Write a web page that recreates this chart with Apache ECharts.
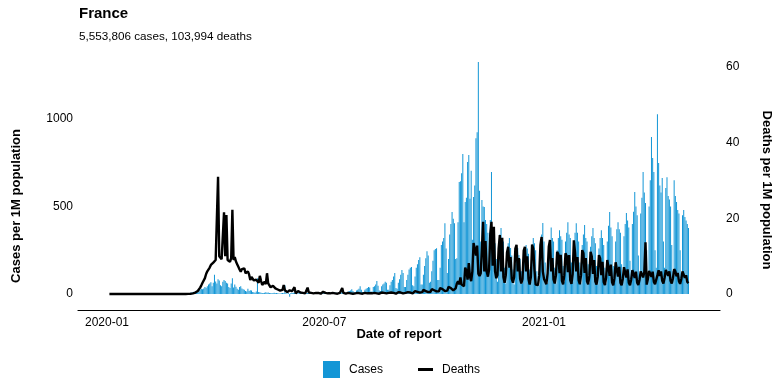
<!DOCTYPE html>
<html><head><meta charset="utf-8">
<script src="https://cdn.jsdelivr.net/npm/echarts@6/dist/echarts.min.js"></script>
<style>html,body{margin:0;padding:0;background:#fff}#c{width:783px;height:392px}</style>
</head><body><div id="c"></div>
<script>
// ---------------- data (per 1M population, daily, from 2020-01-03) ----------------
const FIRST_DAY = '2020-01-03';
const titleText = 'France';
const subtitleText = '5,553,806 cases, 103,994 deaths';
const casesTicks = [0, 500, 1000];
const deathsTicks = [0, 20, 40, 60];
const dateTicks = ['2020-01-01', '2020-07-01', '2021-01-01'];

const casesPerMillion = [
  0,0,0,
  0,0,0,0,0,0,0,
  0,0,0,0,0,0,0,
  0,0,0,0,0,0,0,
  0,0,0,0,0,0,0,
  0,0,0,0,0,0,0,
  0,0,0,0,0,0,0,
  0,0,0,0,0,0,0,
  0,0,0.1,0.2,0.3,0.4,0.6,
  0.6,0.9,1.3,1.4,2.2,3.0,4.5,
  3.2,6.0,7.4,8.9,12.5,13.0,14.5,
  18,20,22,25,31,27,32,
  40,36,45,55,61,68,45,
  65,110,72,60,85,78,50,
  45,70,80,75,65,60,40,
  35,60,90,38,55,42,30,
  25,40,45,32,28,25,18,
  15,30,18,22,20,12,10,
  8,14,91,12,10,8,6,
  5,8,10,7,9,6,4,
  4,6,7,5,6,4,3,
  3,5,6,5,50,4,3,
  4,-15,6,8,7,6,3,
  3,5,7,6,6,5,3,
  3,5,6,7,6,5,3,
  3,5,7,8,7,6,3,
  4,6,8,9,8,7,4,
  4,7,9,10,9,8,5,
  5,9,11,12,12,10,6,
  7,14,17,20,28,18,10,
  10,20,24,30,45,25,12,
  12,25,30,35,40,38,15,
  15,40,45,55,75,48,20,
  18,45,55,60,70,65,25,
  25,50,70,80,100,120,35,
  30,65,85,110,137,120,40,
  40,80,110,140,150,154,50,
  45,100,150,170,195,211,55,
  55,110,160,205,245,220,65,
  70,130,190,250,258,262,80,
  80,150,280,300,320,405,260,
  120,200,340,400,469,430,405,
  200,205,410,640,645,690,800,
  410,526,550,754,794,545,705,
  310,554,620,891,925,1326,590,
  300,537,500,497,423,400,350,
  150,423,697,377,340,290,200,
  70,200,340,377,320,300,150,
  60,150,290,320,263,220,140,
  55,170,260,263,223,200,130,
  60,180,269,280,260,230,140,
  70,200,320,290,250,130,60,
  50,180,340,406,300,180,80,
  60,200,300,380,320,300,150,
  60,250,320,365,330,310,160,
  70,300,350,411,340,320,180,
  70,290,350,405,350,300,180,
  60,280,340,394,320,300,170,
  60,270,330,377,320,290,160,
  55,260,320,365,320,280,150,
  60,300,390,469,380,330,160,
  65,300,370,411,370,350,170,
  70,330,400,463,420,380,190,
  80,400,470,583,500,450,220,
  90,460,550,697,580,520,250,
  100,500,650,897,777,697,250,
  150,1028,749,620,580,663,300,
  150,606,668,560,540,500,280,
  130,651,560,526,480,460,250,
  120,450,480,440,420,400,377
];

const deathsPerMillion = [
  0,0,0,
  0,0,0,0,0,0,0,
  0,0,0,0,0,0,0,
  0,0,0,0,0,0,0,
  0,0,0,0,0,0,0,
  0,0,0,0,0,0,0,
  0,0,0,0,0,0,0,
  0,0,0,0,0,0,0,
  0,0,0.01,0,0,0.01,0,
  0.01,0.01,0.01,0.02,0.03,0.03,0.04,
  0.05,0.08,0.1,0.15,0.2,0.25,0.4,
  0.5,0.8,1.2,1.7,2.3,3.0,3.5,
  4.2,5.3,6.0,6.3,7.0,7.7,8.0,
  8.3,8.8,9.0,9.5,31,10,9.5,
  9.2,9.5,21.6,10,20.9,9.0,8.5,
  8.5,9.5,22.3,9.0,9.8,8.6,7.9,
  7.2,6.5,5.9,6.6,6.3,6.8,5.5,
  5.0,6.0,5.2,3.7,4.5,5.0,3.6,
  3.2,3.8,3.4,3.0,4.8,3.5,2.4,
  2.2,3.3,2.6,5.5,2.8,2.3,1.8,
  1.6,2.2,1.9,1.5,1.3,1.2,1.0,
  0.9,1.3,1.1,2.4,1.0,0.8,0.5,
  0.4,1.0,1.3,0.8,0.7,1.8,0.2,
  0.3,0.8,0.5,0.4,0.4,0.3,0.2,
  0.2,0.5,1.7,0.4,0.3,0.3,0.2,
  0.2,0.5,0.3,0.3,0.3,0.2,0.1,
  0.2,0.6,0.3,0.3,0.2,0.2,0.1,
  0.2,0.5,0.3,0.3,0.2,0.2,0.1,
  0.2,0.3,0.4,1.6,0.3,0.1,0.1,
  0.2,0.3,0.3,0.2,0.2,0.1,0.1,
  0.2,0.3,0.3,0.2,0.2,0.1,0.1,
  0.2,0.3,0.3,0.2,0.2,0.2,0.1,
  0.2,0.3,0.3,0.3,0.2,0.2,0.1,
  0.2,0.4,0.3,0.3,0.3,0.2,0.1,
  0.3,0.4,0.4,0.3,0.3,0.2,0.1,
  0.3,0.5,0.4,0.4,0.3,0.2,0.2,
  0.3,0.6,0.5,0.5,0.4,0.3,0.2,
  0.4,0.8,0.7,0.6,0.5,0.4,0.3,
  0.5,1.1,0.9,0.8,0.7,0.5,0.4,
  0.6,1.3,1.2,1.0,0.9,0.7,0.5,
  0.7,1.6,1.4,1.3,1.1,0.8,0.7,
  0.9,1.9,1.8,1.6,1.4,1.0,0.8,
  1.5,2.8,3.4,2.6,4.4,2.5,2.0,
  2.1,7.0,6.2,3.8,8.2,4.5,3.4,
  6.0,13.5,12.0,10.2,12.8,5.4,4.8,
  5.5,12.0,19.1,6.0,14.0,6.0,4.6,
  6.5,16.0,19.1,7.5,17.8,6.0,4.2,
  5.0,12.0,15.6,6.0,14.9,4.5,3.0,
  5.0,11.0,12.5,7.0,9.8,4.0,3.0,
  4.5,12.0,13.0,6.0,9.5,4.0,2.8,
  4.0,11.5,12.5,6.0,10.0,4.0,2.5,
  4.5,13.1,12.0,6.5,2.5,3.0,2.4,
  5.0,13.0,15.1,6.0,4.0,3.5,2.6,
  5.5,12.5,14.3,6.0,9.5,3.8,2.8,
  5.0,11.2,10.5,5.5,10.4,3.5,2.6,
  5.0,10.8,10.0,5.8,10.3,3.6,2.7,
  5.3,14.2,11.0,6.0,9.8,3.7,2.6,
  5.0,11.6,10.8,5.6,9.5,3.4,2.6,
  4.8,11.2,10.0,5.3,9.0,3.3,2.5,
  4.6,10.3,9.5,5.0,8.5,3.2,2.4,
  4.3,9.0,8.6,4.8,7.8,3.1,2.3,
  4.2,8.4,8.0,4.6,7.2,3.0,2.3,
  4.0,7.1,6.8,4.4,6.5,3.0,2.3,
  3.8,6.3,6.0,4.3,5.9,3.0,2.4,
  3.8,6.0,5.9,4.4,5.8,13.7,2.5,
  4.0,6.1,6.0,4.6,5.9,3.2,2.6,
  3.0,5.0,6.3,4.8,6.0,3.5,2.8,
  4.3,6.4,6.2,4.8,6.0,3.5,2.8,
  4.2,6.6,6.0,4.7,5.6,3.4,2.7,
  4.0,6.0,5.6,4.3,5.0,3.2,2.9
];

// ---------------- chart ----------------
// x axis is a value axis in days since 2020-01-01
const DAY = 86400000;
const FONT = '"Liberation Sans", Arial, Helvetica, sans-serif';
const BLUE = '#1396d6';
const tRef = Date.parse('2020-01-01T00:00:00Z');
const dayOf = s => Math.round((Date.parse(s + 'T00:00:00Z') - tRef) / DAY);
const d0 = dayOf(FIRST_DAY);
const caseData = casesPerMillion.map((v, i) => [d0 + i, v]);
const deathData = deathsPerMillion.map((v, i) => [d0 + i, v]);
const dateTickValues = dateTicks.map(dayOf);

function fmtMonth(v) {
  const d = new Date(tRef + v * DAY);
  return d.getUTCFullYear() + '-' + String(d.getUTCMonth() + 1).padStart(2, '0');
}
const plain = v => String(v);

const chart = echarts.init(document.getElementById('c'), null, {renderer: 'canvas'});
chart.setOption({
  animation: false,
  backgroundColor: '#fff',
  textStyle: {fontFamily: FONT},
  title: {
    text: titleText,
    subtext: subtitleText,
    left: 79, top: 6, padding: 0, itemGap: 10,
    textStyle: {fontFamily: FONT, fontSize: 15, fontWeight: 'bold', color: '#000'},
    subtextStyle: {fontFamily: FONT, fontSize: 11.7, color: '#000'}
  },
  grid: {left: 78, right: 63, top: 48, bottom: 82},
  legend: [
    {data: ['Cases'], left: 323, top: 361, itemWidth: 17, itemHeight: 17, icon: 'rect', padding: 0,
     textStyle: {fontFamily: FONT, fontSize: 12, color: '#000', padding: [3, 0, 0, 4]}},
    {data: ['Deaths'], left: 418, top: 363.5, itemWidth: 15, itemHeight: 3, icon: 'rect', padding: 0,
     textStyle: {fontFamily: FONT, fontSize: 12, color: '#000', padding: [0, 0, 0, 4]}}
  ],
  xAxis: {
    type: 'value',
    min: -24.3,
    max: 513.4,
    axisLine: {show: true, onZero: false, lineStyle: {color: '#000', width: 1.2}},
    axisTick: {show: false},
    splitLine: {show: false},
    axisLabel: {customValues: dateTickValues, formatter: fmtMonth, fontFamily: FONT, fontSize: 12, color: '#000', margin: 7, hideOverlap: false},
    name: 'Date of report', nameLocation: 'middle', nameGap: 18, nameMoveOverlap: false,
    nameTextStyle: {fontFamily: FONT, fontWeight: 'bold', fontSize: 13, color: '#000'}
  },
  yAxis: [
    {
      type: 'value', min: -91, max: 1406,
      axisLine: {show: false}, axisTick: {show: false}, splitLine: {show: false},
      axisLabel: {customValues: casesTicks, formatter: plain, fontFamily: FONT, fontSize: 12, color: '#000', margin: 5},
      name: 'Cases per 1M population', nameLocation: 'middle', nameRotate: 90, nameGap: 55,
      nameTextStyle: {fontFamily: FONT, fontWeight: 'bold', fontSize: 13, color: '#000', padding: [0, 54, 0, 0]}
    },
    {
      type: 'value', min: -4.21, max: 65.03, position: 'right',
      axisLine: {show: false}, axisTick: {show: false}, splitLine: {show: false},
      axisLabel: {customValues: deathsTicks, formatter: plain, fontFamily: FONT, fontSize: 12, color: '#000', margin: 6},
      name: 'Deaths per 1M population', nameLocation: 'middle', nameRotate: -90, nameGap: 40,
      nameTextStyle: {fontFamily: FONT, fontWeight: 'bold', fontSize: 13, color: '#000', padding: [0, 0, 0, 22]}
    }
  ],
  series: [
    {name: 'Cases', type: 'bar', yAxisIndex: 0, data: caseData, barWidth: 1, itemStyle: {color: BLUE}, z: 2},
    {name: 'Deaths', type: 'line', yAxisIndex: 1, data: deathData, showSymbol: false, symbol: 'none',
     lineStyle: {color: '#000', width: 2.4}, itemStyle: {color: '#000'}, z: 3}
  ]
});
</script></body></html>
